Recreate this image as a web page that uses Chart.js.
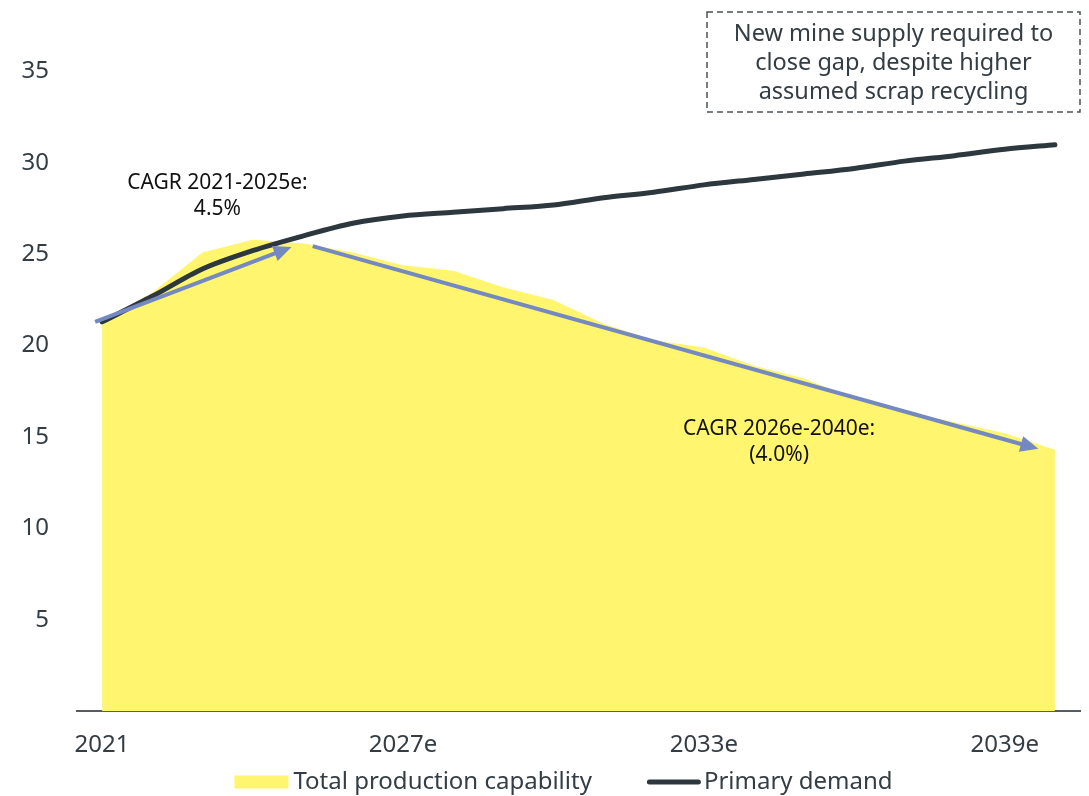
<!DOCTYPE html>
<html>
<head>
<meta charset="utf-8">
<script src="https://cdn.jsdelivr.net/npm/chart.js@4.4.1/dist/chart.umd.min.js"></script>
<style>
  html, body { margin: 0; padding: 0; background: #fff; }
  #wrap { width: 1089px; height: 796px; position: relative; }
</style>
</head>
<body>
<div id="wrap"><canvas id="supplyChart"></canvas></div>
<script>
const years = [
  "2021", "2022e", "2023e", "2024e", "2025e", "2026e", "2027e", "2028e", "2029e", "2030e",
  "2031e", "2032e", "2033e", "2034e", "2035e", "2036e", "2037e", "2038e", "2039e", "2040e",
];
const productionCapability = [
  21.3, 22.9, 25.1, 25.8, 25.6, 25.1, 24.4, 24.1, 23.2, 22.5,
  21.2, 20.3, 19.9, 18.9, 18.2, 17.1, 16.4, 15.8, 15.2, 14.3,
];
const primaryDemand = [
  21.3, 22.7, 24.2, 25.2, 26.0, 26.7, 27.1, 27.3, 27.5, 27.7,
  28.1, 28.4, 28.8, 29.1, 29.4, 29.7, 30.1, 30.4, 30.75, 31.0,
];
const yTicks = [5, 10, 15, 20, 25, 30, 35];
const cagrNotes = [
  { lines: ["CAGR 2021-2025e:", "4.5%"], at: [2.3, 28.9], from: [-0.14, 21.3], to: [3.78, 25.4] },
  { lines: ["CAGR 2026e-2040e:", "(4.0%)"], at: [13.5, 15.45], from: [4.2, 25.45], to: [18.67, 14.35] },
];
const calloutLines = [
  "New mine supply required to",
  "close gap, despite higher",
  "assumed scrap recycling",
];

const TEXT = "#333d43";
const FONT = "'Noto Sans', 'Open Sans', sans-serif";

// CAGR arrows, their captions and the dashed callout box
const annotations = {
  id: "annotations",
  afterDatasetsDraw(chart) {
    const { ctx, chartArea, scales: { x, y } } = chart;
    ctx.save();

    cagrNotes.forEach((note) => {
      const x1 = x.getPixelForValue(note.from[0]);
      const y1 = y.getPixelForValue(note.from[1]);
      const x2 = x.getPixelForValue(note.to[0]);
      const y2 = y.getPixelForValue(note.to[1]);
      const ang = Math.atan2(y2 - y1, x2 - x1);
      const head = 18;
      const half = 8;
      ctx.strokeStyle = "#7489c2";
      ctx.fillStyle = "#7489c2";
      ctx.lineWidth = 4;
      ctx.beginPath();
      ctx.moveTo(x1, y1);
      ctx.lineTo(x2 - Math.cos(ang) * head * 0.8, y2 - Math.sin(ang) * head * 0.8);
      ctx.stroke();
      ctx.beginPath();
      ctx.moveTo(x2, y2);
      ctx.lineTo(x2 - Math.cos(ang) * head + Math.sin(ang) * half, y2 - Math.sin(ang) * head - Math.cos(ang) * half);
      ctx.lineTo(x2 - Math.cos(ang) * head - Math.sin(ang) * half, y2 - Math.sin(ang) * head + Math.cos(ang) * half);
      ctx.closePath();
      ctx.fill();

      ctx.fillStyle = "#111";
      ctx.font = "21px " + FONT;
      ctx.textAlign = "center";
      ctx.textBaseline = "middle";
      const cx = x.getPixelForValue(note.at[0]);
      const cy = y.getPixelForValue(note.at[1]);
      note.lines.forEach((line, i) => ctx.fillText(line, cx, cy + i * 26));
    });

    // callout box, top right
    const bw = 373;
    const bx = chartArea.right - bw;
    const by = 12;
    ctx.strokeStyle = "#4a5257";
    ctx.lineWidth = 1.5;
    ctx.setLineDash([6, 4]);
    ctx.strokeRect(bx, by, bw, 100);
    ctx.setLineDash([]);
    ctx.fillStyle = TEXT;
    ctx.font = "23.5px " + FONT;
    ctx.textAlign = "center";
    ctx.textBaseline = "middle";
    calloutLines.forEach((line, i) => ctx.fillText(line, bx + bw / 2, by + 22 + i * 29));

    ctx.restore();
  },
  // legend row under the x axis
  afterDraw(chart) {
    const { ctx, chartArea } = chart;
    const [demand, production] = chart.data.datasets;
    ctx.save();
    ctx.font = "24px " + FONT;
    ctx.textBaseline = "middle";
    ctx.textAlign = "left";
    const swatch = 54;
    const w1 = ctx.measureText(production.label).width;
    const w2 = ctx.measureText(demand.label).width;
    const total = swatch + 5 + w1 + 55 + swatch + 3 + w2;
    let lx = (chartArea.left + chartArea.right) / 2 - 15 - total / 2;
    const ly = 782;

    ctx.fillStyle = production.backgroundColor;
    ctx.fillRect(lx, ly - 6.5, swatch, 13);
    lx += swatch + 5;
    ctx.fillStyle = TEXT;
    ctx.fillText(production.label, lx, ly);
    lx += w1 + 55;

    ctx.strokeStyle = demand.borderColor;
    ctx.lineWidth = 5;
    ctx.lineCap = "round";
    ctx.beginPath();
    ctx.moveTo(lx + 2.5, ly);
    ctx.lineTo(lx + swatch - 2.5, ly);
    ctx.stroke();
    lx += swatch + 3;
    ctx.fillText(demand.label, lx, ly);
    ctx.restore();
  },
};

new Chart(document.getElementById("supplyChart"), {
  type: "line",
  data: {
    labels: years,
    datasets: [
      {
        label: "Primary demand",
        data: primaryDemand,
        borderColor: "#2c383e",
        backgroundColor: "#2c383e",
        borderWidth: 5,
        borderCapStyle: "round",
        tension: 0.3,
        pointRadius: 0,
        fill: false,
        order: 1,
      },
      {
        label: "Total production capability",
        data: productionCapability,
        borderColor: "#fff56f",
        backgroundColor: "#fff56f",
        borderWidth: 0,
        tension: 0,
        pointRadius: 0,
        fill: "origin",
        order: 2,
      },
    ],
  },
  options: {
    responsive: true,
    maintainAspectRatio: false,
    animation: false,
    layout: {
      padding: { top: 15, right: 9, left: 0, bottom: 0 },
    },
    plugins: {
      legend: { display: false },
      tooltip: { enabled: false },
    },
    scales: {
      x: {
        offset: true,
        afterFit: (scale) => {
          scale.height = 85;
        },
        grid: { display: false, drawTicks: false },
        border: { display: true, color: "#555d62", width: 2 },
        ticks: {
          autoSkip: false,
          maxRotation: 0,
          padding: 20,
          color: TEXT,
          font: { family: FONT, size: 24 },
          callback: function (value, index) {
            return index % 6 === 0 ? years[index] : "";
          },
        },
      },
      y: {
        min: 0,
        max: 36.6,
        afterBuildTicks: (scale) => {
          scale.ticks = yTicks.map((v) => ({ value: v }));
        },
        afterFit: (scale) => {
          scale.width = 77;
        },
        grid: { display: false, drawTicks: false },
        border: { display: false },
        ticks: {
          padding: 28,
          color: TEXT,
          font: { family: FONT, size: 24 },
        },
      },
    },
  },
  plugins: [annotations],
});
</script>
</body>
</html>
